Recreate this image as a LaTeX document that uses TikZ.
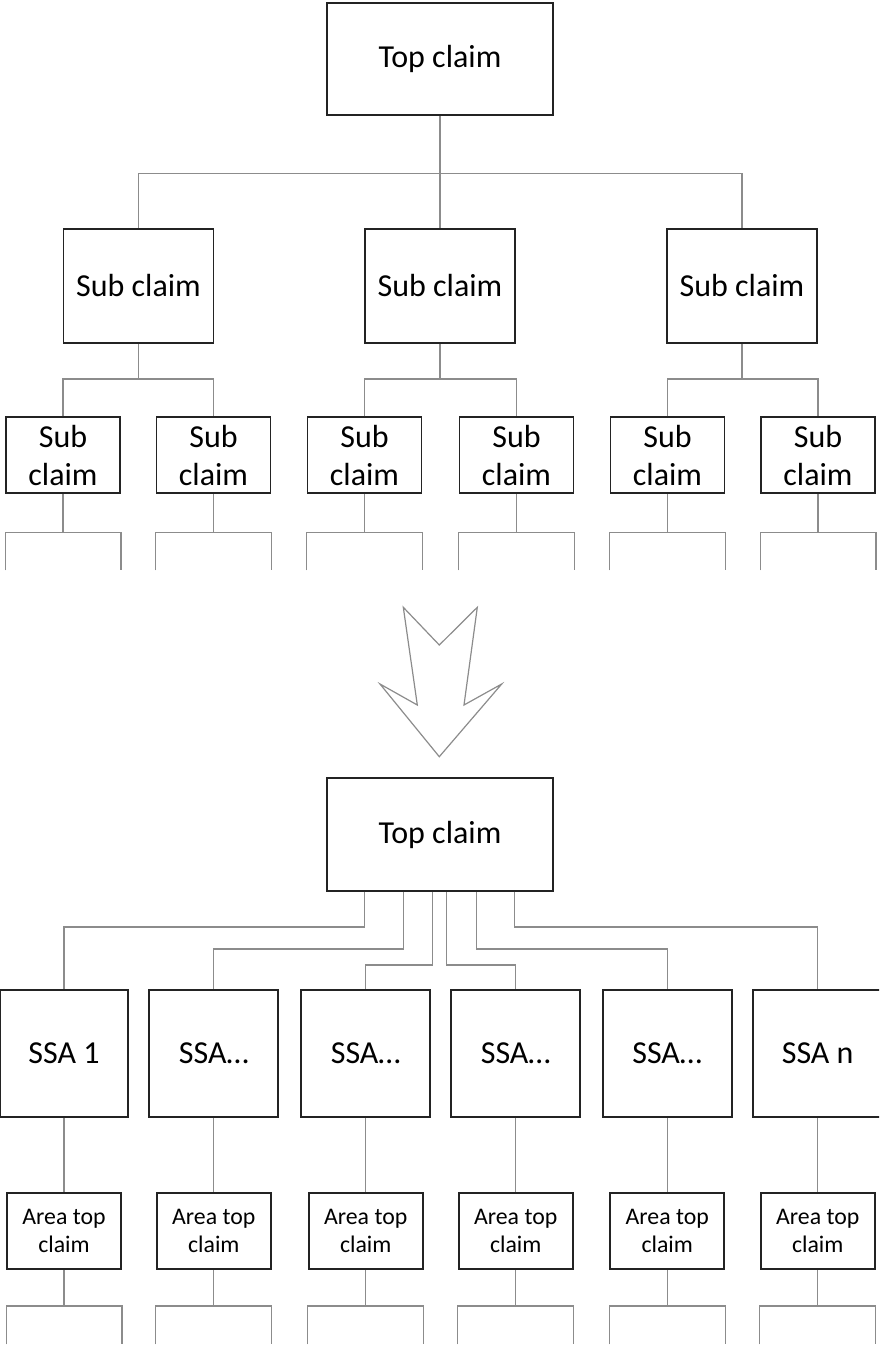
\documentclass[tikz,border=0pt]{standalone}
\usepackage{fontspec}
\setmainfont{Carlito}
\definecolor{conn}{RGB}{140,140,140}
\definecolor{boxline}{RGB}{35,35,35}
\tikzset{
  claimbox/.style={draw=boxline, line width=1.9pt, fill=white, inner sep=0pt, align=center,
    font=\fontsize{32}{37.5}\selectfont},
  bigbox/.style={claimbox, minimum width=226pt, minimum height=112pt},
  subbox/.style={claimbox, minimum width=150pt, minimum height=114pt},
  smallbox/.style={claimbox, minimum width=114pt, minimum height=76pt},
  ssabox/.style={claimbox, minimum width=129pt, minimum height=127pt},
  areabox/.style={claimbox, minimum width=114pt, minimum height=76pt,
    font=\fontsize{23.8}{28}\selectfont},
  conline/.style={draw=conn, line width=1.1pt},
  bigarrow/.style={draw=conn, line width=1.2pt, fill=white, line join=miter}
}
\begin{document}
\begin{tikzpicture}[x=1pt,y=-1pt]
\useasboundingbox (0,0) rectangle (879,1349);
\clip (0,0) rectangle (879,1349);

% ---------- upper tree ----------
\node[bigbox] (top) at (440,59) {Top claim};
\node[subbox] (sc1) at (138.5,286) {Sub claim};
\node[subbox] (sc2) at (440,286) {Sub claim};
\node[subbox] (sc3) at (742,286) {Sub claim};

\node[smallbox] (s1) at (63,455.3) {Sub\\claim};
\node[smallbox] (s2) at (213.5,455.3) {Sub\\claim};
\node[smallbox] (s3) at (364.5,455.3) {Sub\\claim};
\node[smallbox] (s4) at (516.5,455.3) {Sub\\claim};
\node[smallbox] (s5) at (667.5,455.3) {Sub\\claim};
\node[smallbox] (s6) at (818,455.3) {Sub\\claim};

\coordinate (j0) at (440,173.3);
\draw[conline] (top.south) -- (sc2.north);
\draw[conline] (sc1.north) |- (j0) -| (sc3.north);

\coordinate (j1) at (138.5,379);
\coordinate (j2) at (440,379);
\coordinate (j3) at (742,379);
\draw[conline] (sc1.south) -- (j1);
\draw[conline] (sc2.south) -- (j2);
\draw[conline] (sc3.south) -- (j3);
\draw[conline] (s1.north) |- (j1) -| (s2.north);
\draw[conline] (s3.north) |- (j2) -| (s4.north);
\draw[conline] (s5.north) |- (j3) -| (s6.north);

\foreach \n in {s1,s2,s3,s4,s5,s6}{
  \draw[conline] (\n.south) -- ([yshift=-38.4pt]\n.south);
  \draw[conline] ([yshift=-76pt]\n.south west) |- ([yshift=-38.4pt]\n.south)
                 -| ([yshift=-76pt]\n.south east);
}

% ---------- big arrow ----------
\draw[bigarrow] (403.3,607.3) -- (439.3,645) -- (477.3,607.3) -- (464,705)
  -- (501.7,684) -- (439.3,756.7) -- (380,684) -- (417.3,705) -- cycle;

% ---------- lower tree ----------
\node[bigbox, minimum height=113pt] (bt) at (440,834.5) {Top claim};

\node[ssabox, minimum width=128pt] (a1) at (64,1053.5) {SSA 1};
\node[ssabox] (a2) at (213.8,1053.5) {SSA…};
\node[ssabox] (a3) at (365.7,1053.5) {SSA…};
\node[ssabox] (a4) at (515.7,1053.5) {SSA…};
\node[ssabox] (a5) at (667.2,1053.5) {SSA…};
\node[ssabox] (a6) at (817.7,1053.5) {SSA n};

\draw[conline] ([xshift=38.7pt]bt.south west) -- ++(0,35) -| (a1.north);
\draw[conline] ([xshift=77pt]bt.south west) -- ++(0,57) -| (a2.north);
\draw[conline] ([xshift=106.3pt]bt.south west) -- ++(0,73) -| (a3.north);
\draw[conline] ([xshift=120.7pt]bt.south west) -- ++(0,73) -| (a4.north);
\draw[conline] ([xshift=150.3pt]bt.south west) -- ++(0,57) -| (a5.north);
\draw[conline] ([xshift=188.7pt]bt.south west) -- ++(0,35) -| (a6.north);

\node[areabox] (t1) at (64,1231.3) {Area top\\claim};
\node[areabox] (t2) at (213.8,1231.3) {Area top\\claim};
\node[areabox] (t3) at (365.7,1231.3) {Area top\\claim};
\node[areabox] (t4) at (515.7,1231.3) {Area top\\claim};
\node[areabox] (t5) at (667.2,1231.3) {Area top\\claim};
\node[areabox] (t6) at (817.7,1231.3) {Area top\\claim};

\foreach \i in {1,...,6}{
  \draw[conline] (a\i.south) -- (t\i.north);
  \draw[conline] (t\i.south) -- ([yshift=-35.7pt]t\i.south);
  \draw[conline] ([yshift=-74pt]t\i.south west) |- ([yshift=-35.7pt]t\i.south)
                 -| ([yshift=-74pt]t\i.south east);
}
\end{tikzpicture}
\end{document}
